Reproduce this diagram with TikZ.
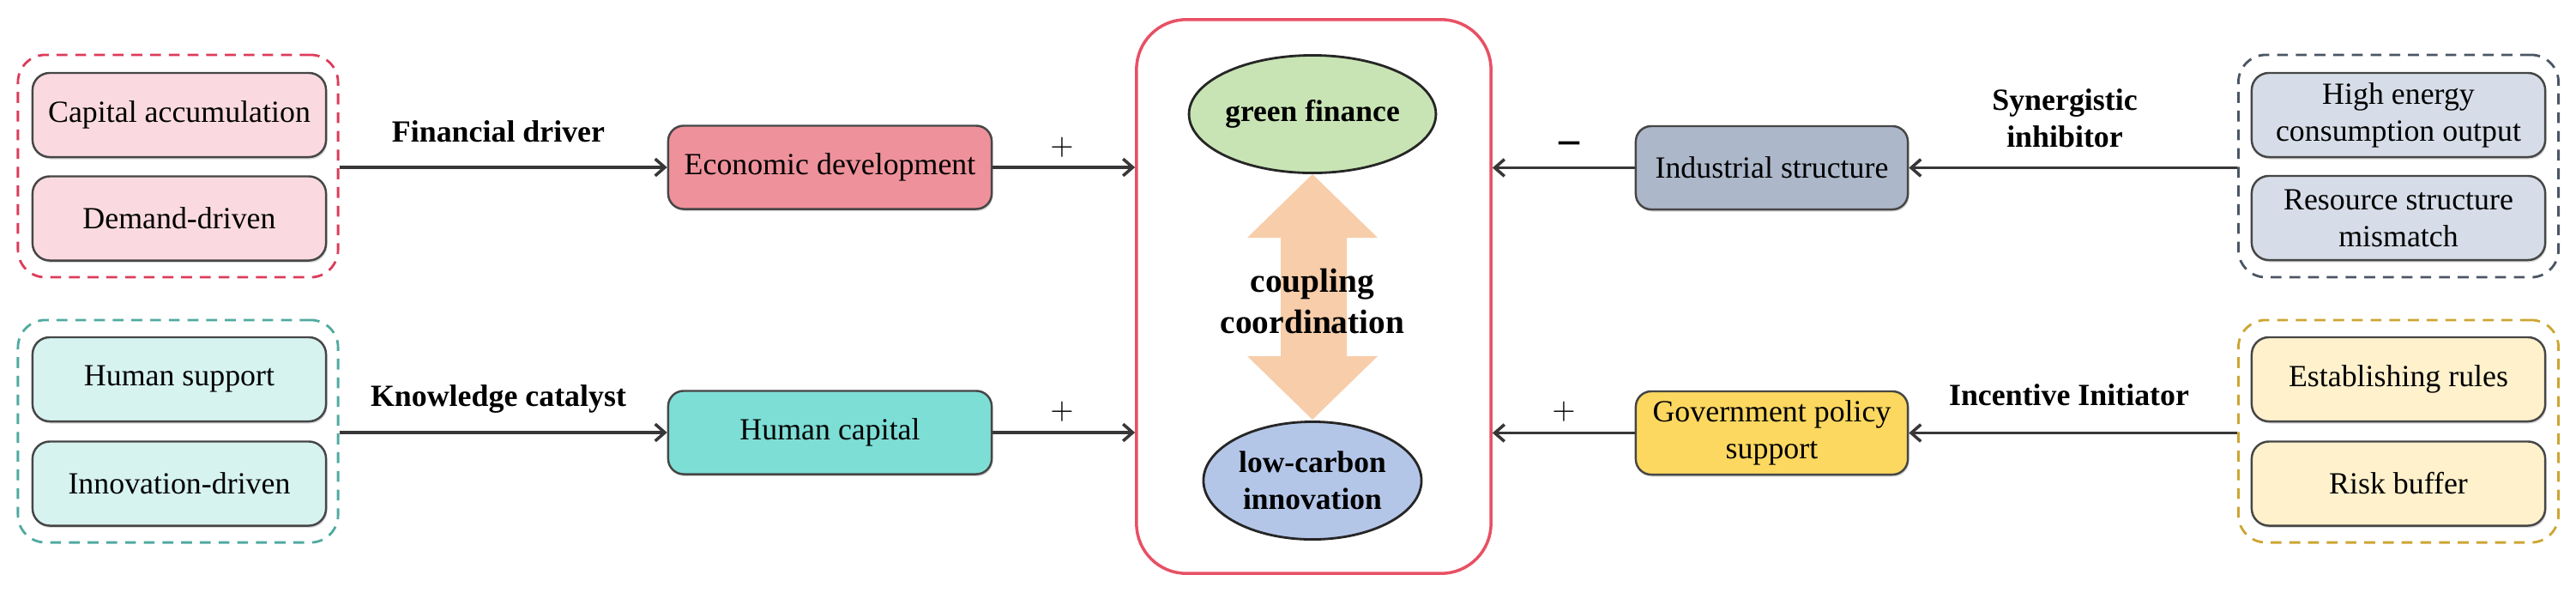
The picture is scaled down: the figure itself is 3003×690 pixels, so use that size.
\documentclass[tikz,border=0pt]{standalone}
\usepackage{fontspec}
\setmainfont{Liberation Serif}
\usetikzlibrary{arrows.meta,shadows,shapes.geometric}
\definecolor{redD}{RGB}{220,60,90}
\definecolor{pinkL}{RGB}{250,218,224}
\definecolor{econc}{RGB}{238,145,155}
\definecolor{tealD}{RGB}{80,170,160}
\definecolor{tealL}{RGB}{214,243,240}
\definecolor{humc}{RGB}{125,222,214}
\definecolor{frameR}{RGB}{232,80,100}
\definecolor{greenc}{RGB}{200,228,180}
\definecolor{bluec}{RGB}{180,198,232}
\definecolor{arrowfill}{RGB}{247,205,170}
\definecolor{indc}{RGB}{172,184,202}
\definecolor{slateD}{RGB}{75,85,100}
\definecolor{slateL}{RGB}{214,221,232}
\definecolor{govc}{RGB}{252,216,96}
\definecolor{goldD}{RGB}{205,165,50}
\definecolor{goldL}{RGB}{255,241,204}
\definecolor{boxline}{RGB}{70,70,70}
\definecolor{arrowc}{RGB}{55,55,55}
\begin{document}
\begin{tikzpicture}[x=0.01cm,y=-0.01cm,
  base/.style={font=\fontsize{10.2}{12.2}\selectfont, text=black, align=center, inner sep=0pt},
  shad/.style={drop shadow={shadow xshift=0.4pt, shadow yshift=-0.7pt, fill=black!60, opacity=0.25}},
  subbox/.style={base, shad, draw=boxline, line width=0.7pt, rounded corners=0.2cm, minimum width=3.42cm, minimum height=0.98cm},
  midbox/.style={base, shad, draw=boxline, line width=0.7pt, rounded corners=0.18cm, minimum height=0.97cm},
  grpbox/.style={draw, line width=0.8pt, dash pattern=on 3.6pt off 2.6pt, rounded corners=0.32cm, minimum width=3.73cm, minimum height=2.59cm, inner sep=0pt},
  conn/.style={draw=arrowc, line width=1pt, -{Straight Barb[length=3.2pt,width=5.6pt,line width=1pt]}},
  lab/.style={base, font=\bfseries\fontsize{10.2}{12.2}\selectfont},
  oval/.style={ellipse, draw=black!85, line width=0.8pt, inner sep=0pt, align=center, text=black, font=\bfseries\fontsize{10.1}{12.2}\selectfont, minimum width=2.54cm, minimum height=1.37cm},
  sign/.style={base}
]
\useasboundingbox (0,0) rectangle (3003,690);

% left groups
\node[grpbox, draw=redD] (gA) at (207.5,193.5) {};
\node[subbox, fill=pinkL] (cap) at (209,134) {Capital accumulation};
\node[subbox, fill=pinkL] (dem) at (209,254.5) {Demand-driven};
\node[grpbox, draw=tealD] (gB) at (207.5,502.5) {};
\node[subbox, fill=tealL] (hsup) at (209,442) {Human support};
\node[subbox, fill=tealL] (innd) at (209,563.5) {Innovation-driven};

% middle-left boxes
\node[midbox, fill=econc, minimum width=3.77cm] (econ) at (967.5,195) {Economic development};
\node[midbox, fill=humc, minimum width=3.77cm] (hcap) at (967.5,504) {Human capital};

% centre frame
\node[draw=frameR, line width=1pt, rounded corners=0.58cm, minimum width=4.13cm, minimum height=6.45cm, inner sep=0pt] (fr) at (1531.5,345.5) {};
\node[oval, fill=greenc] (gf) at (1530,133) {green finance};
\node[oval, fill=bluec] (lc) at (1530,560) {low-carbon\\innovation};
\fill[arrowfill] (1530,203) -- (1606,277) -- (1570,277) -- (1570,415) -- (1606,415) -- (1530,489) -- (1454,415) -- (1493,415) -- (1493,277) -- (1454,277) -- cycle;
\node[base, font=\bfseries\fontsize{11.2}{13.6}\selectfont] (cc) at (1530,351) {coupling\\coordination};

% middle-right boxes
\node[midbox, fill=indc, minimum width=3.17cm] (inds) at (2065.5,195.5) {Industrial structure};
\node[midbox, fill=govc, minimum width=3.17cm] (govp) at (2065.5,504.5) {Government policy\\support};

% right groups
\node[grpbox, draw=slateD] (gC) at (2796,193.5) {};
\node[subbox, fill=slateL] (heco) at (2796,134) {High energy\\consumption output};
\node[subbox, fill=slateL] (rsm) at (2796,254) {Resource structure\\mismatch};
\node[grpbox, draw=goldD] (gD) at (2796,502.5) {};
\node[subbox, fill=goldL] (estr) at (2796,442) {Establishing rules};
\node[subbox, fill=goldL] (rbuf) at (2796,563.5) {Risk buffer};

% connectors
\draw[conn] (gA.east |- econ) -- (econ.west);
\draw[conn] (gB.east |- hcap) -- (hcap.west);
\draw[conn] (econ.east) -- (econ.east -| fr.west);
\draw[conn] (hcap.east) -- (hcap.east -| fr.west);
\draw[conn] (inds.west) -- (inds.west -| fr.east);
\draw[conn] (govp.west) -- (govp.west -| fr.east);
\draw[conn] (gC.west |- inds) -- (inds.east);
\draw[conn] (gD.west |- govp) -- (govp.east);

% labels
\node[lab, anchor=base] (fdrv) at (581,165) {Financial driver};
\node[lab, anchor=base] (kcat) at (581,473) {Knowledge catalyst};
\node[lab] (sinh) at (2407,138) {Synergistic\\inhibitor};
\node[lab, anchor=base] (iini) at (2412,472) {Incentive Initiator};
\node[sign] (s1) at (1238,172) {$+$};
\node[sign] (s2) at (1238,480) {$+$};
\node[sign, font=\bfseries\fontsize{15}{15}\selectfont] (s3) at (1830,175) {−};
\node[sign] (s4) at (1823,480) {$+$};
\end{tikzpicture}
\end{document}
